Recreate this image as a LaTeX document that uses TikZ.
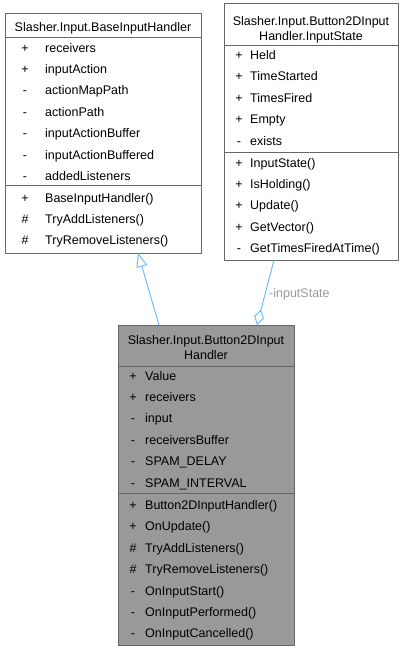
\documentclass[tikz,border=0pt]{standalone}
\usepackage{fontspec}
\setmainfont{Liberation Sans}
\usetikzlibrary{arrows.meta}
\definecolor{edgeblue}{HTML}{63B8FF}
\definecolor{boxline}{HTML}{666666}
\definecolor{boxfill}{HTML}{999999}
\definecolor{lblgray}{HTML}{9A9A9A}
\tikzset{
  umlbox/.style={draw=boxline, line width=0.8pt, anchor=north west, inner sep=0pt},
  row/.style={anchor=base west, inner sep=0pt},
  sym/.style={anchor=base, inner sep=0pt},
  title/.style={anchor=base, inner sep=0pt},
  sepline/.style={draw=boxline, line width=0.8pt},
  link/.style={draw=edgeblue, line width=0.9pt}
}
\begin{document}
\begin{tikzpicture}[x=1pt, y=-1pt, font=\fontsize{12.5}{15}\selectfont, line join=round]
\useasboundingbox (0,0) rectangle (406,651);
% base class
\node[umlbox, fill=white, minimum width=196pt, minimum height=240pt] (base) at (5,13) {};
\node[title] (baseT) at (103,31.5) {Slasher.Input.BaseInputHandler};
\draw[sepline] (5,37.3) -- (201,37.3);
\draw[sepline] (5,185) -- (201,185);
\foreach \s/\n [count=\i from 0] in {+/receivers,+/inputAction,-/actionMapPath,-/actionPath,-/inputActionBuffer,-/inputActionBuffered,-/addedListeners}
  \node[row] (baseA\i) at (45,52+21.4*\i) {\n} node[sym] (baseAs\i) at (25,52+21.4*\i) {\s};
\foreach \s/\n [count=\i from 0] in {+/BaseInputHandler(),\#/TryAddListeners(),\#/TryRemoveListeners()}
  \node[row] (baseM\i) at (45,202+21.4*\i) {\n} node[sym] (baseMs\i) at (25,202+21.4*\i) {\s};
% nested input state
\node[umlbox, fill=white, minimum width=174pt, minimum height=257pt] (state) at (224,3) {};
\node[title] (stateT1) at (311,25) {Slasher.Input.Button2DInput};
\node[title] (stateT2) at (311,40.7) {Handler.InputState};
\draw[sepline] (224,45) -- (398,45);
\draw[sepline] (224,152.7) -- (398,152.7);
\foreach \s/\n [count=\i from 0] in {+/Held,+/TimeStarted,+/TimesFired,+/Empty,-/exists}
  \node[row] (stateA\i) at (250,59.5+21.4*\i) {\n} node[sym] (stateAs\i) at (239,59.5+21.4*\i) {\s};
\foreach \s/\n [count=\i from 0] in {+/InputState(),+/IsHolding(),+/Update(),+/GetVector(),-/GetTimesFiredAtTime()}
  \node[row] (stateM\i) at (250,167+21.4*\i) {\n} node[sym] (stateMs\i) at (239,167+21.4*\i) {\s};
% handler
\node[umlbox, fill=boxfill, minimum width=176pt, minimum height=320pt] (hnd) at (118,325) {};
\node[title] (hndT1) at (206,344) {Slasher.Input.Button2DInput};
\node[title] (hndT2) at (206,359.3) {Handler};
\draw[sepline] (118,366) -- (294,366);
\draw[sepline] (118,493.3) -- (294,493.3);
\foreach \s/\n [count=\i from 0] in {+/Value,+/receivers,-/input,-/receiversBuffer,-/SPAM\_DELAY,-/SPAM\_INTERVAL}
  \node[row] (hndA\i) at (145,380+21.4*\i) {\n} node[sym] (hndAs\i) at (133,380+21.4*\i) {\s};
\foreach \s/\n [count=\i from 0] in {+/Button2DInputHandler(),+/OnUpdate(),\#/TryAddListeners(),\#/TryRemoveListeners(),-/OnInputStart(),-/OnInputPerformed(),-/OnInputCancelled()}
  \node[row] (hndM\i) at (145,509.5+21.4*\i) {\n} node[sym] (hndMs\i) at (133,509.5+21.4*\i) {\s};
% relations
\coordinate (inhS) at (159,325);
\coordinate (inhE) at (138,253);
\draw[link, -{Triangle[length=14pt, width=11pt, fill=white]}] (inhS) -- (inhE);
\coordinate (aggS) at (274,260);
\coordinate (aggE) at (257,325);
\draw[link, -{Diamond[length=16pt, width=10pt, fill=white]}] (aggS) -- (aggE);
\node[row, text=lblgray] (aggL) at (269,297) {-inputState};
\end{tikzpicture}
\end{document}
